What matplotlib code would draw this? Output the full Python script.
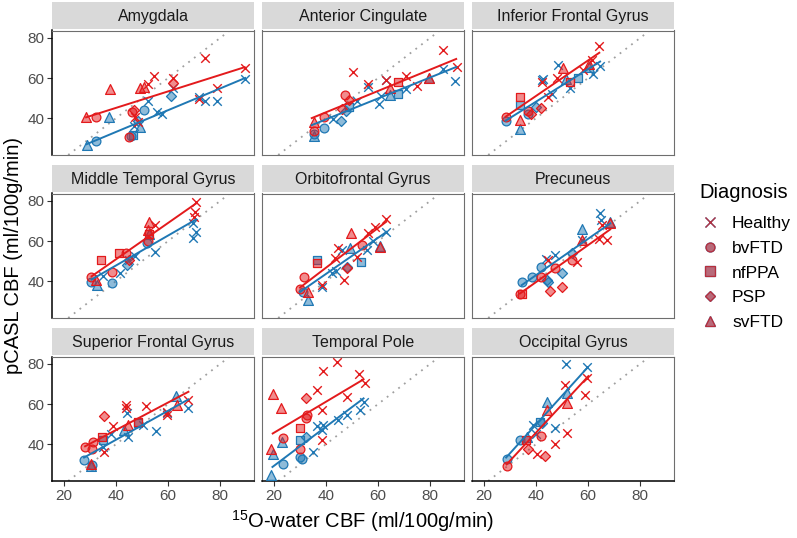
import matplotlib
matplotlib.use("Agg")
import matplotlib.pyplot as plt
from matplotlib.lines import Line2D

# ---- data: (PET CBF, pCASL CBF, diagnosis) ----
# diagnosis codes: H=Healthy, B=bvFTD, N=nfPPA, P=PSP, S=svFTD
AMYGDALA_RED = [(28.5, 40.7, "S"), (32.2, 40.4, "B"), (37.7, 54.5, "S"), (49.2, 54.9, "S"), (50.8, 55.4, "S"),
                (52.4, 57.0, "H"), (54.7, 61.2, "H"), (61.8, 60.0, "H"), (61.7, 57.4, "P"), (74.2, 69.9, "H"),
                (89.4, 64.9, "H"), (78.7, 55.0, "H"), (71.7, 49.5, "H"), (46.9, 44.0, "P"), (46.3, 43.0, "B"),
                (47.3, 40.4, "H"), (45.1, 30.4, "B"), (48.5, 38.0, "H")]
AMYGDALA_BLUE = [(28.7, 26.7, "S"), (32.2, 28.7, "B"), (37.4, 40.4, "S"), (45.6, 31.2, "B"), (46.5, 31.5, "N"),
                 (49.2, 35.7, "S"), (46.9, 36.2, "H"), (50.9, 44.0, "B"), (61.2, 51.2, "P"), (55.6, 43.2, "H"),
                 (57.6, 42.0, "H"), (52.4, 48.7, "H"), (71.7, 50.4, "H"), (74.2, 48.7, "H"), (78.7, 48.7, "H"),
                 (89.6, 59.5, "H"), (61.8, 55.0, "H"), (48.5, 38.5, "P")]

CINGULATE_RED = [(50.5, 63.2, "H"), (84.9, 74.2, "H"), (90.3, 65.4, "H"), (56.3, 57.0, "H"), (63.1, 59.2, "H"),
                 (70.8, 61.2, "H"), (74.9, 56.2, "H"), (67.6, 58.2, "N"), (64.6, 55.0, "S"), (79.4, 60.0, "S"),
                 (47.3, 51.5, "B"), (49.0, 49.0, "P"), (46.0, 44.5, "P"), (39.2, 40.4, "B"), (35.4, 38.2, "S"),
                 (35.4, 33.4, "B")]
CINGULATE_BLUE = [(35.4, 32.0, "B"), (35.4, 31.0, "S"), (39.2, 34.9, "B"), (45.6, 38.7, "P"), (42.8, 39.5, "H"),
                  (49.0, 45.4, "N"), (51.8, 48.7, "H"), (60.5, 47.0, "H"), (56.3, 55.7, "H"), (61.2, 51.2, "H"),
                  (64.6, 51.7, "S"), (67.6, 52.0, "N"), (70.8, 54.5, "H"), (79.4, 60.0, "S"), (85.1, 64.5, "H"),
                  (89.6, 58.7, "H"), (63.0, 59.0, "H"), (47.5, 43.5, "P")]

INF_FRONTAL_RED = [(28.3, 40.4, "B"), (33.8, 50.4, "N"), (33.8, 39.0, "S"), (36.8, 43.7, "B"), (41.8, 45.0, "P"),
                   (42.4, 57.8, "H"), (44.7, 50.4, "H"), (64.3, 75.9, "H"), (61.4, 69.2, "H"), (50.5, 65.0, "S"),
                   (48.0, 60.0, "H"), (58.0, 64.0, "H"), (60.5, 67.0, "S"), (53.0, 58.0, "N"), (38.0, 42.0, "P")]
INF_FRONTAL_BLUE = [(28.3, 38.4, "B"), (33.8, 46.7, "N"), (33.8, 34.6, "S"), (36.8, 42.0, "B"), (42.4, 59.2, "H"),
                    (42.7, 59.4, "H"), (48.6, 66.7, "H"), (60.5, 65.5, "S"), (64.6, 66.2, "H"), (62.0, 62.0, "H"),
                    (53.1, 54.8, "H"), (51.6, 59.7, "S"), (40.0, 45.5, "P"), (46.0, 52.0, "H"), (56.0, 60.0, "N")]

MID_TEMPORAL_RED = [(70.8, 79.6, "H"), (70.4, 74.6, "H"), (70.0, 72.0, "H"), (52.8, 69.6, "S"), (55.0, 68.0, "H"),
                    (52.1, 65.5, "S"), (52.6, 63.5, "N"), (52.1, 60.0, "B"), (41.3, 53.8, "N"), (43.8, 53.8, "B"),
                    (34.2, 50.5, "N"), (30.3, 42.1, "B"), (38.3, 44.6, "B"), (32.3, 40.5, "S"), (45.0, 50.5, "P")]
MID_TEMPORAL_BLUE = [(69.7, 68.8, "H"), (70.8, 64.6, "H"), (69.7, 61.6, "H"), (55.0, 54.6, "H"), (52.5, 63.5, "S"),
                     (47.3, 52.5, "H"), (44.1, 47.9, "P"), (41.5, 43.8, "H"), (38.3, 39.1, "B"), (30.3, 39.6, "B"),
                     (32.6, 38.0, "S"), (35.1, 42.5, "H"), (52.0, 59.0, "B"), (45.0, 50.5, "H")]

ORBITOFRONTAL_RED = [(63.1, 70.8, "H"), (58.8, 66.8, "H"), (56.3, 63.8, "H"), (49.6, 63.8, "S"), (44.7, 56.3, "H"),
                     (43.5, 51.3, "H"), (36.7, 49.1, "N"), (31.5, 42.1, "B"), (33.2, 34.6, "S"), (30.0, 36.3, "B"),
                     (53.7, 57.9, "B"), (60.8, 56.8, "S"), (46.7, 40.5, "H"), (38.3, 38.0, "H"), (48.0, 46.3, "P"),
                     (52.0, 52.0, "H")]
ORBITOFRONTAL_BLUE = [(33.2, 30.5, "S"), (31.3, 34.6, "B"), (38.3, 37.1, "H"), (42.2, 43.8, "H"), (48.0, 47.1, "P"),
                      (53.5, 49.6, "N"), (49.2, 56.3, "S"), (55.6, 55.5, "H"), (63.1, 64.6, "H"), (46.0, 55.5, "H"),
                      (36.7, 50.5, "N"), (60.8, 57.5, "S"), (44.0, 45.0, "H"), (58.0, 60.0, "H")]

PRECUNEUS_RED = [(33.8, 33.8, "B"), (34.6, 33.5, "N"), (44.7, 50.5, "H"), (45.4, 35.1, "P"), (49.9, 37.1, "P"),
                 (47.3, 46.3, "B"), (53.7, 50.5, "B"), (55.6, 49.6, "H"), (57.6, 60.5, "S"), (64.0, 60.8, "H"),
                 (67.2, 60.5, "H"), (65.3, 68.0, "H"), (68.5, 69.0, "S"), (42.0, 42.0, "B")]
PRECUNEUS_BLUE = [(34.5, 39.6, "B"), (38.3, 42.1, "B"), (44.1, 40.5, "P"), (44.7, 39.6, "P"), (47.3, 53.0, "H"),
                  (49.9, 44.1, "P"), (53.7, 53.8, "P"), (57.6, 65.8, "S"), (57.6, 60.5, "H"), (64.4, 73.8, "H"),
                  (64.9, 70.5, "H"), (68.5, 69.6, "S"), (44.0, 51.0, "H"), (42.0, 47.0, "B")]

SUP_FRONTAL_RED = [(28.1, 38.6, "B"), (30.6, 37.8, "B"), (31.3, 41.1, "B"), (30.3, 30.3, "S"), (34.5, 43.6, "N"),
                   (35.5, 54.0, "P"), (39.0, 49.0, "H"), (43.8, 59.5, "H"), (43.8, 57.8, "H"), (51.5, 59.0, "H"),
                   (44.7, 49.5, "S"), (48.6, 51.1, "N"), (59.5, 56.1, "H"), (63.3, 59.5, "S"), (67.8, 62.0, "H"),
                   (35.5, 36.1, "H"), (59.5, 54.5, "H")]
SUP_FRONTAL_BLUE = [(27.7, 32.3, "B"), (30.3, 29.0, "S"), (30.8, 29.5, "B"), (34.9, 42.0, "N"), (44.1, 55.3, "H"),
                    (44.7, 43.6, "H"), (43.0, 47.0, "S"), (50.5, 49.5, "H"), (55.4, 46.6, "H"), (63.1, 64.0, "S"),
                    (67.8, 57.8, "H"), (59.5, 55.3, "H"), (35.1, 38.6, "H"), (38.0, 45.0, "H"), (48.6, 50.5, "N")]

TEMPORAL_POLE_RED = [(19.5, 65.0, "S"), (22.6, 57.8, "S"), (18.9, 37.8, "S"), (23.3, 43.1, "B"), (30.0, 37.8, "B"),
                     (30.0, 47.8, "N"), (32.3, 62.8, "P"), (32.8, 54.5, "B"), (32.3, 52.8, "B"), (36.4, 67.0, "H"),
                     (39.0, 76.5, "H"), (44.1, 81.1, "H"), (38.3, 57.0, "H"), (47.9, 63.6, "H"), (52.8, 74.8, "H"),
                     (55.0, 70.6, "H"), (38.3, 42.0, "H")]
TEMPORAL_POLE_BLUE = [(19.7, 35.3, "S"), (18.7, 24.5, "S"), (23.0, 41.1, "S"), (23.6, 30.0, "B"), (30.0, 33.6, "B"),
                      (30.6, 32.5, "B"), (32.3, 43.6, "P"), (35.1, 36.1, "H"), (38.3, 47.0, "H"), (39.0, 49.5, "H"),
                      (44.4, 52.0, "H"), (47.9, 54.5, "H"), (53.1, 57.0, "H"), (54.4, 61.1, "H"), (30.0, 42.0, "N"),
                      (36.4, 49.0, "H")]

OCCIPITAL_RED = [(29.0, 29.0, "B"), (37.0, 37.8, "P"), (40.3, 35.3, "H"), (43.5, 34.0, "P"), (44.1, 57.0, "S"),
                 (51.2, 69.5, "H"), (59.5, 72.8, "H"), (58.8, 64.5, "H"), (51.8, 60.6, "S"), (51.8, 45.3, "H"),
                 (47.3, 40.0, "H"), (42.0, 44.0, "B"), (36.0, 42.0, "N")]
OCCIPITAL_BLUE = [(28.7, 32.8, "B"), (36.4, 43.6, "S"), (39.0, 49.5, "H"), (41.5, 51.1, "N"), (44.1, 61.1, "S"),
                  (51.4, 80.0, "H"), (59.5, 78.3, "H"), (52.0, 65.3, "S"), (47.3, 47.8, "H"), (42.2, 50.3, "P"),
                  (40.0, 45.0, "H"), (34.0, 42.0, "B")]

# fitted lines: (x0, y0, x1, y1)
FITS_RED = [(28.5, 40.4, 89.4, 65.4), (34.5, 40.0, 90.0, 69.5), (28.3, 40.7, 64.3, 72.6),
            (30.6, 42.4, 70.8, 78.8), (30.0, 36.8, 63.1, 69.6), (33.8, 33.8, 68.5, 65.8),
            (28.1, 38.9, 67.8, 66.1), (19.5, 45.3, 54.4, 72.3), (28.7, 29.9, 60.1, 73.9)]
FITS_BLUE = [(28.7, 27.0, 89.6, 60.0), (34.5, 36.5, 90.0, 65.5), (28.3, 38.7, 64.6, 68.2),
             (30.6, 40.8, 70.8, 70.8), (30.0, 34.6, 63.3, 64.6), (34.5, 38.0, 68.5, 68.8),
             (27.7, 33.3, 67.8, 62.3), (19.4, 28.6, 54.4, 62.8), (28.5, 33.3, 59.5, 77.8)]

REGIONS = ["Amygdala", "Anterior Cingulate", "Inferior Frontal Gyrus",
           "Middle Temporal Gyrus", "Orbitofrontal Gyrus", "Precuneus",
           "Superior Frontal Gyrus", "Temporal Pole", "Occipital Gyrus"]
RED_DATA = [AMYGDALA_RED, CINGULATE_RED, INF_FRONTAL_RED, MID_TEMPORAL_RED, ORBITOFRONTAL_RED,
            PRECUNEUS_RED, SUP_FRONTAL_RED, TEMPORAL_POLE_RED, OCCIPITAL_RED]
BLUE_DATA = [AMYGDALA_BLUE, CINGULATE_BLUE, INF_FRONTAL_BLUE, MID_TEMPORAL_BLUE, ORBITOFRONTAL_BLUE,
             PRECUNEUS_BLUE, SUP_FRONTAL_BLUE, TEMPORAL_POLE_BLUE, OCCIPITAL_BLUE]

DIAGNOSES = ["H", "B", "N", "P", "S"]
DIAG_LABELS = ["Healthy", "bvFTD", "nfPPA", "PSP", "svFTD"]
XTICKS = [20, 40, 60, 80]
YTICKS = [40, 60, 80]

# ---- styling ----
RED = "#E31A1C"
BLUE = "#1F78B4"
MARKERS = {"H": "x", "B": "o", "N": "s", "P": "D", "S": "^"}
SIZES = {"H": 38, "B": 40, "N": 34, "P": 26, "S": 50}
FILL_ALPHA = 0.5

plt.rcParams["font.family"] = ["Liberation Sans", "DejaVu Sans"]
plt.rcParams["mathtext.fontset"] = "custom"
plt.rcParams["mathtext.rm"] = "Liberation Sans"

W, H = 797, 538
fig = plt.figure(figsize=(W / 100, H / 100), dpi=100)


def box(left, top, w, h):
    return [left / W, 1 - (top + h) / H, w / W, h / H]


COL_LEFT = [52.3, 262.3, 472.3]
ROW_TOP = [30.5, 193.5, 356.5]
PW, PH = 201.7, 124.5
STRIP_H = 26.5


def draw_points(ax, pts, color):
    for d in DIAGNOSES:
        sub = [p for p in pts if p[2] == d]
        if not sub:
            continue
        xs = [p[0] for p in sub]
        ys = [p[1] for p in sub]
        if d == "H":
            ax.scatter(xs, ys, marker="x", s=SIZES[d], c=color, linewidths=1.0, zorder=3)
        else:
            ax.scatter(xs, ys, marker=MARKERS[d], s=SIZES[d], facecolors=matplotlib.colors.to_rgba(color, FILL_ALPHA),
                       edgecolors=color, linewidths=0.9, zorder=3)


for i, region in enumerate(REGIONS):
    r, c = divmod(i, 3)
    ax = fig.add_axes(box(COL_LEFT[c], ROW_TOP[r], PW, PH))
    ax.set_xlim(15.5, 93)
    ax.set_ylim(21.6, 83.7)
    ax.axline((0, 0), slope=1, color="#A0A0A0", lw=1.3, ls=(0, (1, 3)), zorder=1)

    draw_points(ax, BLUE_DATA[i], BLUE)
    draw_points(ax, RED_DATA[i], RED)
    for fit, color in ((FITS_BLUE[i], BLUE), (FITS_RED[i], RED)):
        ax.plot([fit[0], fit[2]], [fit[1], fit[3]], color=color, lw=1.4, zorder=4)

    for s in ax.spines.values():
        s.set_color("#6E6E6E")
        s.set_linewidth(0.8)
    ax.set_xticks(XTICKS)
    ax.set_yticks(YTICKS)
    ax.tick_params(length=3.5, width=0.8, color="#333333", labelsize=11, labelcolor="#4D4D4D", pad=2)
    if c == 0:
        ax.spines["left"].set_color("black")
        ax.spines["left"].set_linewidth(1.1)
    else:
        ax.tick_params(left=False, labelleft=False)
    if r == 2:
        ax.spines["bottom"].set_color("black")
        ax.spines["bottom"].set_linewidth(1.1)
    else:
        ax.tick_params(bottom=False, labelbottom=False)

    sax = fig.add_axes(box(COL_LEFT[c], ROW_TOP[r] - STRIP_H - 2, PW, STRIP_H))
    sax.set_facecolor("#D9D9D9")
    sax.set_xticks([])
    sax.set_yticks([])
    for s in sax.spines.values():
        s.set_visible(False)
    sax.text(0.5, 0.45, region, ha="center", va="center", fontsize=11.5, color="#1A1A1A",
             transform=sax.transAxes)

fig.text(14 / W, 1 - 256 / H, "pCASL CBF (ml/100g/min)", rotation=90, ha="center", va="center", fontsize=14.5)
fig.text(363 / W, 1 - 521 / H, r"$\mathregular{^{15}}$O-water CBF (ml/100g/min)", ha="center", va="center",
         fontsize=14.5)

handles = []
for d in DIAGNOSES:
    if d == "H":
        hb = Line2D([], [], ls="none", marker="x", ms=6.5, mec=BLUE, mew=1.0)
        hr = Line2D([], [], ls="none", marker="x", ms=6.5, mec=RED, mew=1.0, alpha=0.75)
    else:
        ms = 6.5 if d != "P" else 5.5
        hb = Line2D([], [], ls="none", marker=MARKERS[d], ms=ms, mfc=matplotlib.colors.to_rgba(BLUE, FILL_ALPHA),
                    mec=BLUE, mew=0.9)
        hr = Line2D([], [], ls="none", marker=MARKERS[d], ms=ms, mfc=matplotlib.colors.to_rgba(RED, FILL_ALPHA),
                    mec=matplotlib.colors.to_rgba(RED, 0.7), mew=0.9)
    handles.append((hb, hr))

fig.text(699 / W, 1 - 192 / H, "Diagnosis", ha="left", va="center", fontsize=14.5)
leg = fig.legend(handles, DIAG_LABELS, loc="upper left", bbox_to_anchor=(700 / W, 1 - 216 / H),
                 frameon=False, fontsize=12.5, handlelength=1.2, handletextpad=0.65,
                 labelspacing=0.55, borderaxespad=0, borderpad=0)

fig.savefig("out.png", dpi=100)
